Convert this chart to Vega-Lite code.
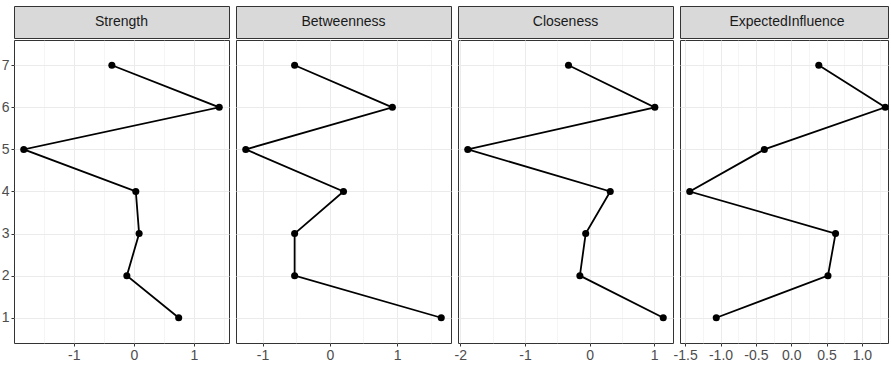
{
  "$schema": "https://vega.github.io/schema/vega-lite/v6.json",
  "padding": {"left": 0, "top": 5, "right": 0, "bottom": 0},
  "background": "white",
  "datasets": {
    "centrality": [
      {"measure": "Strength", "node": 1, "value": 0.746},
      {"measure": "Strength", "node": 2, "value": -0.116},
      {"measure": "Strength", "node": 3, "value": 0.088},
      {"measure": "Strength", "node": 4, "value": 0.033},
      {"measure": "Strength", "node": 5, "value": -1.83},
      {"measure": "Strength", "node": 6, "value": 1.42},
      {"measure": "Strength", "node": 7, "value": -0.365},
      {"measure": "Betweenness", "node": 1, "value": 1.655},
      {"measure": "Betweenness", "node": 2, "value": -0.523},
      {"measure": "Betweenness", "node": 3, "value": -0.523},
      {"measure": "Betweenness", "node": 4, "value": 0.203},
      {"measure": "Betweenness", "node": 5, "value": -1.249},
      {"measure": "Betweenness", "node": 6, "value": 0.929},
      {"measure": "Betweenness", "node": 7, "value": -0.523},
      {"measure": "Closeness", "node": 1, "value": 1.14},
      {"measure": "Closeness", "node": 2, "value": -0.15},
      {"measure": "Closeness", "node": 3, "value": -0.06},
      {"measure": "Closeness", "node": 4, "value": 0.32},
      {"measure": "Closeness", "node": 5, "value": -1.885},
      {"measure": "Closeness", "node": 6, "value": 1.01},
      {"measure": "Closeness", "node": 7, "value": -0.326},
      {"measure": "ExpectedInfluence", "node": 1, "value": -1.06},
      {"measure": "ExpectedInfluence", "node": 2, "value": 0.52},
      {"measure": "ExpectedInfluence", "node": 3, "value": 0.627},
      {"measure": "ExpectedInfluence", "node": 4, "value": -1.435},
      {"measure": "ExpectedInfluence", "node": 5, "value": -0.38},
      {"measure": "ExpectedInfluence", "node": 6, "value": 1.33},
      {"measure": "ExpectedInfluence", "node": 7, "value": 0.39}
    ],
    "strips": [
      {"measure": "Strength"},
      {"measure": "Betweenness"},
      {"measure": "Closeness"},
      {"measure": "ExpectedInfluence"}
    ]
  },
  "align": "all",
  "spacing": -2,
  "hconcat": [
    {
      "spacing": 0,
      "vconcat": [
        {
          "width": 215, "height": 32,
          "data": {"name": "strips"},
          "transform": [{"filter": "datum.measure === 'Strength'"}],
          "view": {"fill": "#d9d9d9", "stroke": "#333333"},
          "mark": {"type": "text", "font": "Liberation Sans", "fontSize": 14, "color": "#1a1a1a"},
          "encoding": {"text": {"field": "measure"}}
        },
        {
          "width": 215, "height": 303,
          "data": {"name": "centrality"},
          "transform": [{"filter": "datum.measure === 'Strength'"}],
          "view": {"fill": "white", "stroke": "#333333"},
          "encoding": {
            "x": {"field": "value", "type": "quantitative", "scale": {"domain": [-1.9925, 1.5825], "nice": false, "zero": false},
              "axis": {"title": null, "values": [-1.5, -1, -0.5, 0, 0.5, 1, 1.5],
                "labelExpr": "datum.value % 1 === 0 ? (datum.value < 0 ? '-' : '') + abs(datum.value) : ''",
                "gridWidth": {"condition": {"test": "datum.value % 1 === 0", "value": 1}, "value": 0.5},
                "tickOpacity": {"condition": {"test": "datum.value % 1 === 0", "value": 1}, "value": 0}}},
            "y": {"field": "node", "type": "quantitative", "scale": {"domain": [0.4, 7.6], "nice": false, "zero": false},
              "axis": {"title": null, "values": [1, 2, 3, 4, 5, 6, 7], "format": "d", "labelPadding": 2}}
          },
          "layer": [
            {"mark": {"type": "line", "color": "black", "strokeWidth": 1.8}, "encoding": {"order": {"field": "node", "type": "quantitative"}}},
            {"mark": {"type": "point", "filled": true, "color": "black", "size": 50, "opacity": 1}}
          ]
        }
      ]
    },
    {
      "spacing": 0,
      "vconcat": [
        {
          "width": 215, "height": 32,
          "data": {"name": "strips"},
          "transform": [{"filter": "datum.measure === 'Betweenness'"}],
          "view": {"fill": "#d9d9d9", "stroke": "#333333"},
          "mark": {"type": "text", "font": "Liberation Sans", "fontSize": 14, "color": "#1a1a1a"},
          "encoding": {"text": {"field": "measure"}}
        },
        {
          "width": 215, "height": 303,
          "data": {"name": "centrality"},
          "transform": [{"filter": "datum.measure === 'Betweenness'"}],
          "view": {"fill": "white", "stroke": "#333333"},
          "encoding": {
            "x": {"field": "value", "type": "quantitative", "scale": {"domain": [-1.394, 1.8], "nice": false, "zero": false},
              "axis": {"title": null, "values": [-1, -0.5, 0, 0.5, 1, 1.5],
                "labelExpr": "datum.value % 1 === 0 ? (datum.value < 0 ? '-' : '') + abs(datum.value) : ''",
                "gridWidth": {"condition": {"test": "datum.value % 1 === 0", "value": 1}, "value": 0.5},
                "tickOpacity": {"condition": {"test": "datum.value % 1 === 0", "value": 1}, "value": 0}}},
            "y": {"field": "node", "type": "quantitative", "scale": {"domain": [0.4, 7.6], "nice": false, "zero": false},
              "axis": {"title": null, "values": [1, 2, 3, 4, 5, 6, 7], "labels": false, "ticks": false}}
          },
          "layer": [
            {"mark": {"type": "line", "color": "black", "strokeWidth": 1.8}, "encoding": {"order": {"field": "node", "type": "quantitative"}}},
            {"mark": {"type": "point", "filled": true, "color": "black", "size": 50, "opacity": 1}}
          ]
        }
      ]
    },
    {
      "spacing": 0,
      "vconcat": [
        {
          "width": 215, "height": 32,
          "data": {"name": "strips"},
          "transform": [{"filter": "datum.measure === 'Closeness'"}],
          "view": {"fill": "#d9d9d9", "stroke": "#333333"},
          "mark": {"type": "text", "font": "Liberation Sans", "fontSize": 14, "color": "#1a1a1a"},
          "encoding": {"text": {"field": "measure"}}
        },
        {
          "width": 215, "height": 303,
          "data": {"name": "centrality"},
          "transform": [{"filter": "datum.measure === 'Closeness'"}],
          "view": {"fill": "white", "stroke": "#333333"},
          "encoding": {
            "x": {"field": "value", "type": "quantitative", "scale": {"domain": [-2.036, 1.291], "nice": false, "zero": false},
              "axis": {"title": null, "values": [-2, -1.5, -1, -0.5, 0, 0.5, 1],
                "labelExpr": "datum.value % 1 === 0 ? (datum.value < 0 ? '-' : '') + abs(datum.value) : ''",
                "gridWidth": {"condition": {"test": "datum.value % 1 === 0", "value": 1}, "value": 0.5},
                "tickOpacity": {"condition": {"test": "datum.value % 1 === 0", "value": 1}, "value": 0}}},
            "y": {"field": "node", "type": "quantitative", "scale": {"domain": [0.4, 7.6], "nice": false, "zero": false},
              "axis": {"title": null, "values": [1, 2, 3, 4, 5, 6, 7], "labels": false, "ticks": false}}
          },
          "layer": [
            {"mark": {"type": "line", "color": "black", "strokeWidth": 1.8}, "encoding": {"order": {"field": "node", "type": "quantitative"}}},
            {"mark": {"type": "point", "filled": true, "color": "black", "size": 50, "opacity": 1}}
          ]
        }
      ]
    },
    {
      "spacing": 0,
      "vconcat": [
        {
          "width": 208, "height": 32,
          "data": {"name": "strips"},
          "transform": [{"filter": "datum.measure === 'ExpectedInfluence'"}],
          "view": {"fill": "#d9d9d9", "stroke": "#333333"},
          "mark": {"type": "text", "font": "Liberation Sans", "fontSize": 14, "color": "#1a1a1a", "dx": 3},
          "encoding": {"text": {"field": "measure"}}
        },
        {
          "width": 208, "height": 303,
          "data": {"name": "centrality"},
          "transform": [{"filter": "datum.measure === 'ExpectedInfluence'"}],
          "view": {"fill": "white", "stroke": "#333333"},
          "encoding": {
            "x": {"field": "value", "type": "quantitative", "scale": {"domain": [-1.573, 1.369], "nice": false, "zero": false},
              "axis": {"title": null, "values": [-1.5, -1.25, -1, -0.75, -0.5, -0.25, 0, 0.25, 0.5, 0.75, 1, 1.25],
                "labelExpr": "datum.value % 0.5 === 0 ? (datum.value < 0 ? '-' : '') + format(abs(datum.value), '.1f') : ''",
                "gridWidth": {"condition": {"test": "datum.value % 0.5 === 0", "value": 1}, "value": 0.5},
                "tickOpacity": {"condition": {"test": "datum.value % 0.5 === 0", "value": 1}, "value": 0}}},
            "y": {"field": "node", "type": "quantitative", "scale": {"domain": [0.4, 7.6], "nice": false, "zero": false},
              "axis": {"title": null, "values": [1, 2, 3, 4, 5, 6, 7], "labels": false, "ticks": false}}
          },
          "layer": [
            {"mark": {"type": "line", "color": "black", "strokeWidth": 1.8}, "encoding": {"order": {"field": "node", "type": "quantitative"}}},
            {"mark": {"type": "point", "filled": true, "color": "black", "size": 50, "opacity": 1}}
          ]
        }
      ]
    }
  ],
  "config": {
    "font": "Liberation Sans",
    "view": {"stroke": "#333333"},
    "axis": {
      "domain": false,
      "grid": true,
      "gridColor": "#ebebeb",
      "labelFont": "Liberation Sans",
      "labelFontSize": 14,
      "labelColor": "#4d4d4d",
      "tickColor": "#333333",
      "tickSize": 3,
      "tickWidth": 1,
      "labelPadding": 2
    }
  }
}
